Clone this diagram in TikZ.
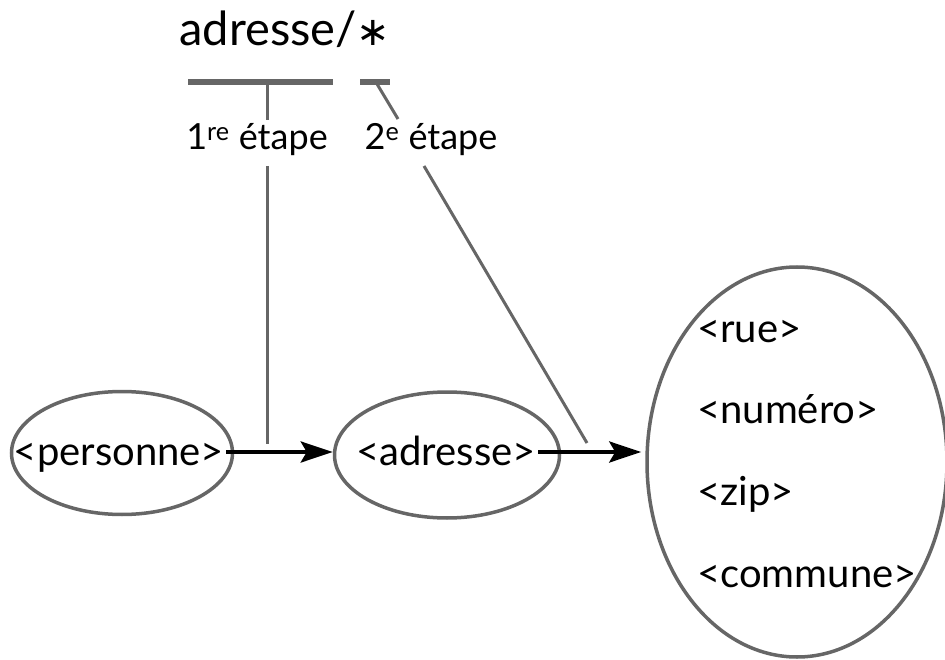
\documentclass[tikz,border=0pt]{standalone}
\usepackage{fontspec}
\setmainfont{Lato}
\newfontfamily\symfont{DejaVu Sans}
\usetikzlibrary{shapes.geometric,arrows.meta}
\definecolor{linegray}{HTML}{666666}
\begin{document}
\begin{tikzpicture}[x=1pt,y=-1pt,
  oval/.style={draw=linegray,line width=3.5pt,ellipse,inner sep=0pt},
  label/.style={font=\fontsize{36}{40}\selectfont,inner sep=0pt,anchor=base},
  elem/.style={font=\fontsize{40}{44}\selectfont,inner sep=0pt,anchor=base},
  field/.style={font=\fontsize{40}{44}\selectfont,inner sep=0pt,anchor=base west},
  bar/.style={draw=linegray,line width=6pt},
  guide/.style={draw=linegray,line width=3pt},
  flow/.style={draw=black,line width=4pt,-{Stealth[length=32pt,width=21pt,inset=6pt]}}]
\useasboundingbox (0,0) rectangle (945,660);

% path expression and its two steps
\node[font=\fontsize{47}{52}\selectfont,inner sep=0pt,anchor=base] (title) at (285,46) {adresse/{\symfont\fontsize{40}{44}\selectfont ∗}};
\coordinate (b1l) at (188,82); \coordinate (b1r) at (333,82);
\coordinate (b2l) at (360,82); \coordinate (b2r) at (390,82);
\draw[bar] (b1l) -- (b1r);
\draw[bar] (b2l) -- (b2r);

\node[label] (step1) at (257,150) {1\textsuperscript{re} étape};
\node[label] (step2) at (431,150) {2\textsuperscript{e} étape};

% element nodes
\node[oval,minimum width=221pt,minimum height=123pt] (pers) at (122,453) {};
\node[elem] (perst) at (119,465) {<personne>};
\node[oval,minimum width=225pt,minimum height=126pt] (adr) at (447,455) {};
\node[elem] (adrt) at (446,465) {<adresse>};
\node[oval,minimum width=300pt,minimum height=390pt] (fields) at (797,462) {};
\node[field] (rue) at (697,342) {<rue>};
\node[field] (num) at (697,423) {<numéro>};
\node[field] (zip) at (697,505) {<zip>};
\node[field] (com) at (697,587) {<commune>};

% navigation arrows
\coordinate (a1s) at (226,452);
\coordinate (a2s) at (538,452);
\draw[flow] (a1s) -- (adr.west |- a1s);
\draw[flow] (a2s) -- ([xshift=-4pt]fields.west |- a2s);

% step 1 guide
\coordinate (g1a) at (267,82); \coordinate (g1b) at (267,120);
\coordinate (g1c) at (267,166); \coordinate (g1d) at (267,444);
\draw[guide] (g1a) -- (g1b);
\draw[guide] (g1c) -- (g1d);

% step 2 guide
\coordinate (g2a) at (377,84); \coordinate (g2b) at (398,119);
\coordinate (g2c) at (424,166); \coordinate (g2d) at (587,443);
\draw[guide] (g2a) -- (g2b);
\draw[guide] (g2c) -- (g2d);
\end{tikzpicture}
\end{document}
